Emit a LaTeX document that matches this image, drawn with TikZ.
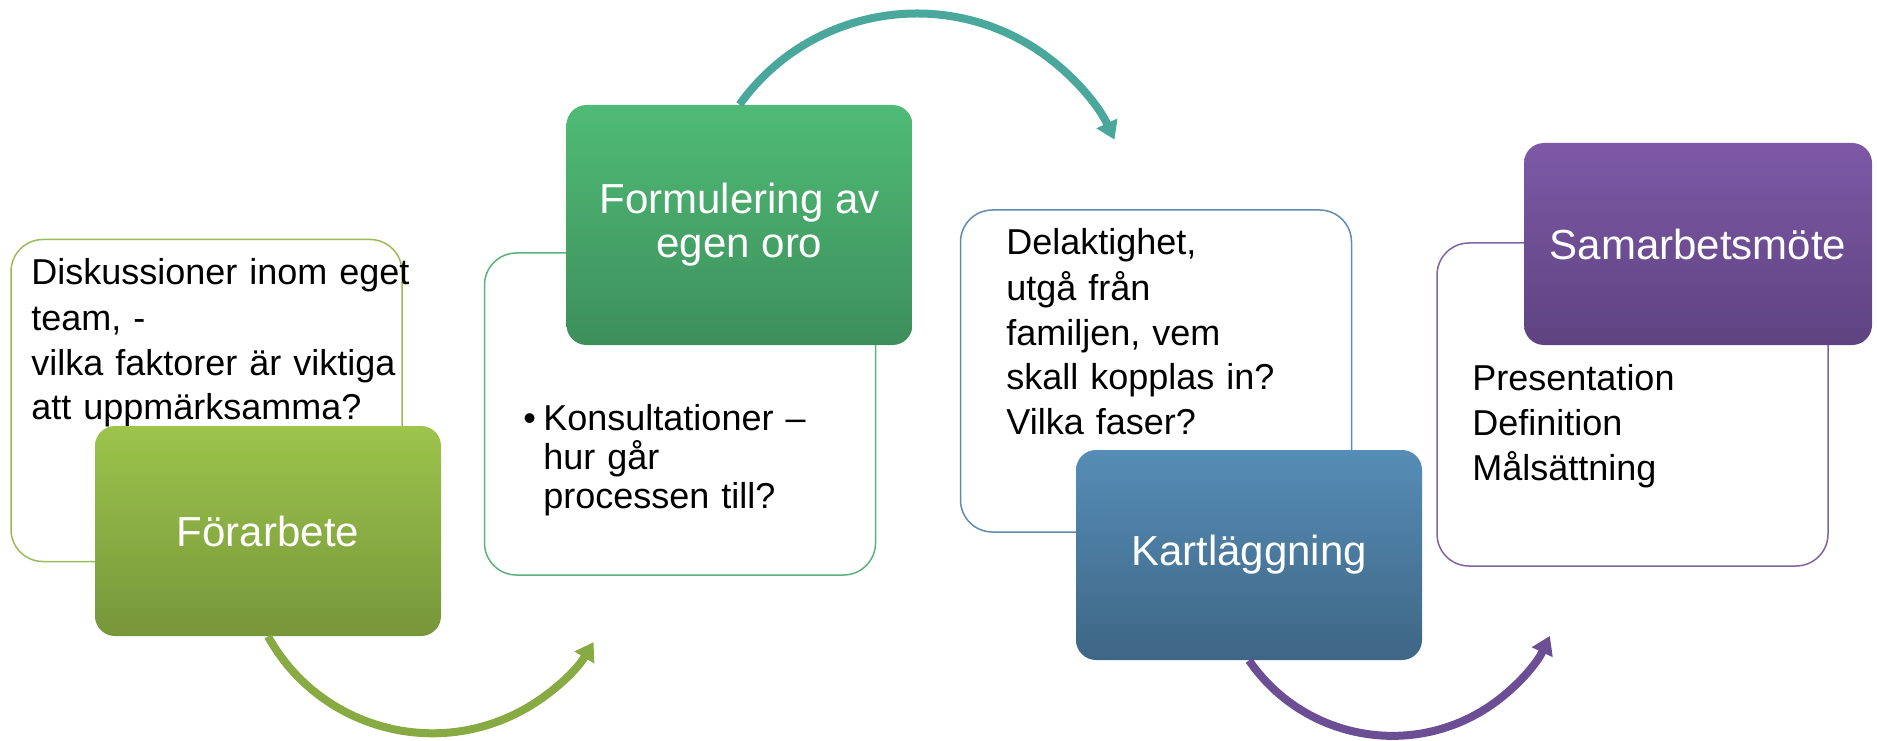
\documentclass[tikz,border=0pt]{standalone}
\usepackage{fontspec}
\setmainfont{Liberation Sans}
\usepackage{xcolor}
\usetikzlibrary{arrows.meta}

\definecolor{grnTop}{HTML}{9DC44C}
\definecolor{grnBot}{HTML}{76963A}
\definecolor{grnLine}{HTML}{9BBB59}
\definecolor{emTop}{HTML}{4FBB76}
\definecolor{emBot}{HTML}{3D8F5B}
\definecolor{emLine}{HTML}{5CB27C}
\definecolor{bluTop}{HTML}{568DB6}
\definecolor{bluBot}{HTML}{3E6685}
\definecolor{bluLine}{HTML}{5F8BAF}
\definecolor{purTop}{HTML}{7D59A6}
\definecolor{purBot}{HTML}{5F4380}
\definecolor{purLine}{HTML}{8064A2}
\definecolor{arrGrn}{HTML}{87AB42}
\definecolor{arrTeal}{HTML}{49A89B}
\definecolor{arrPur}{HTML}{6B4E93}

\tikzset{
  stage/.style={rounded corners=10pt, minimum width=173pt, text=white, align=center,
    inner sep=0pt, font=\fontsize{21}{22}\selectfont},
  detail/.style={draw, line width=0.75pt, rounded corners=16pt, fill=white,
    minimum width=195.5pt, minimum height=161pt, inner sep=0pt},
  notes/.style={anchor=base west, inner sep=0pt, text width=200pt, align=left,
    font=\fontsize{18}{22.5}\selectfont},
  flow/.style={line width=4pt, -{Triangle[width=11pt,length=9pt]}},
}

\begin{document}
\begin{tikzpicture}[x=0.5pt,y=0.5pt]
  \useasboundingbox (0,0) rectangle (1877,740);

  \node[detail, draw=grnLine] (o1) at (206.5,339.5) {};
  \node[detail, draw=emLine] (o2) at (680,326) {};
  \node[detail, draw=bluLine] (o3) at (1156,369) {};
  \node[detail, draw=purLine, minimum height=161.5pt] (o4) at (1632.5,335.5) {};

  \node[notes] (n1) at (31,455) {Diskussioner inom eget\\team, -\\vilka faktorer är viktiga\\att uppmärksamma?};
  \node[anchor=base west, inner sep=0pt, font=\fontsize{18}{19.5}\selectfont] (b2) at (523,310) {•};
  \node[notes, font=\fontsize{18}{19.5}\selectfont] (n2) at (543,310) {Konsultationer –\\hur går\\processen till?};
  \node[notes] (n3) at (1006,485) {Delaktighet,\\utgå från\\familjen, vem\\skall kopplas in?\\Vilka faser?};
  \node[notes] (n4) at (1472,350) {Presentation\\Definition\\Målsättning};

  \node[stage, top color=grnTop, bottom color=grnBot, minimum height=105pt] (t1) at (268,209) {Förarbete};
  \node[stage, top color=emTop, bottom color=emBot, minimum height=120pt] (t2) at (739.5,515) {Formulering av\\egen oro};
  \node[stage, top color=bluTop, bottom color=bluBot, minimum height=105pt] (t3) at (1249,185) {Kartläggning};
  \node[stage, top color=purTop, bottom color=purBot, minimum height=101pt, minimum width=174pt] (t4) at (1698,496) {Samarbetsmöte};

  \draw[flow, arrGrn] (t1.south) arc[start angle=209, end angle=329, radius=94pt];
  \draw[flow, arrTeal] (t2.north) arc[start angle=144.4, end angle=24.9, radius=109pt];
  \draw[flow, arrPur] (t3.south) arc[start angle=214.5, end angle=334.8, radius=87pt];
\end{tikzpicture}
\end{document}
